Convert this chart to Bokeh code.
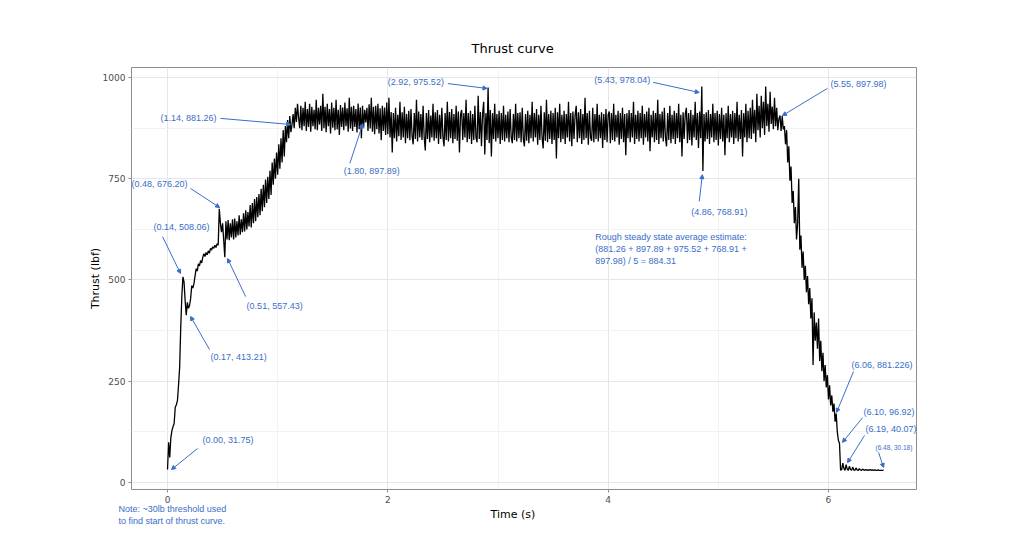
import numpy as np
from bokeh.plotting import figure
from bokeh.models import (ColumnDataSource, Label, Arrow, NormalHead, FixedTicker,
                          Range1d, Title)
from bokeh.embed import file_html
from bokeh.resources import INLINE

# ---------------- data ----------------
dt = 0.01
thrust = [
    32, 99, 62, 110, 128, 138, 145, 185, 192, 202,
    240, 284, 383, 460, 508, 495, 449, 413, 445, 430,
    437, 455, 486, 480, 491, 510, 528, 522, 540, 535,
    548, 542, 556, 565, 558, 568, 562, 572, 566, 578,
    574, 582, 578, 586, 580, 590, 586, 676, 640, 618,
    640, 598, 556, 645, 600, 648, 598, 640, 605, 650,
    600, 652, 605, 645, 610, 660, 612, 650, 618, 665,
    620, 672, 625, 668, 632, 685, 630, 690, 640, 700,
    645, 705, 655, 712, 660, 725, 670, 735, 680, 748,
    690, 755, 700, 770, 710, 790, 735, 800, 750, 815,
    760, 835, 775, 850, 790, 870, 805, 880, 840, 895,
    850, 905, 865, 884, 910, 875, 925, 890, 935, 900,
    875, 930, 870, 925, 880, 940, 868, 922, 878, 935,
    866, 928, 880, 920, 872, 945, 870, 925, 884, 930,
    868, 960, 875, 928, 865, 935, 880, 922, 862, 938,
    876, 925, 870, 945, 872, 920, 858, 932, 878, 926,
    870, 938, 880, 924, 866, 950, 874, 928, 868, 930,
    878, 922, 864, 936, 872, 926, 850, 930, 876, 920,
    889, 925, 868, 934, 874, 950, 866, 928, 860, 930,
    872, 935, 862, 924, 845, 930, 868, 926, 858, 938,
    860, 950, 852, 915, 815, 912, 850, 925, 842, 908,
    855, 940, 846, 914, 852, 928, 838, 910, 850, 918,
    845, 922, 856, 835, 912, 848, 945, 842, 916, 852,
    910, 846, 930, 852, 820, 912, 848, 920, 840, 906,
    852, 935, 844, 914, 850, 920, 836, 908, 848, 925,
    854, 830, 912, 846, 940, 842, 915, 850, 922, 838,
    910, 848, 930, 844, 916, 815, 908, 920, 846, 912,
    852, 945, 840, 912, 848, 918, 836, 910, 846, 930,
    852, 840, 955, 848, 915, 830, 910, 940, 810, 912,
    846, 975, 838, 920, 805, 912, 848, 935, 842, 910,
    850, 918, 836, 912, 846, 930, 842, 908, 850, 916,
    840, 922, 852, 838, 910, 846, 935, 842, 912, 850,
    914, 840, 925, 848, 830, 910, 844, 918, 838, 908,
    850, 940, 842, 912, 852, 922, 834, 908, 846, 930,
    852, 825, 914, 844, 945, 840, 910, 848, 918, 836,
    912, 846, 925, 800, 914, 850, 935, 840, 908, 848,
    918, 836, 910, 852, 940, 842, 912, 830, 916, 848,
    908, 930, 840, 914, 850, 922, 836, 910, 846, 950,
    850, 912, 834, 918, 852, 844, 925, 840, 910, 848,
    935, 842, 908, 850, 914, 826, 910, 846, 922, 840,
    908, 916, 838, 912, 846, 935, 842, 908, 852, 918,
    834, 912, 848, 925, 840, 910, 808, 912, 850, 920,
    840, 912, 852, 940, 836, 908, 848, 918, 842, 912,
    850, 930, 834, 910, 852, 916, 842, 925, 818, 908,
    852, 918, 840, 912, 846, 945, 836, 910, 850, 916,
    842, 925, 852, 830, 912, 846, 930, 838, 908, 848,
    918, 836, 912, 850, 935, 840, 908, 805, 914, 848,
    910, 925, 838, 912, 846, 920, 832, 908, 852, 940,
    846, 912, 826, 916, 850, 978, 769, 910, 842, 914,
    848, 920, 836, 910, 852, 935, 840, 912, 846, 918,
    832, 910, 848, 925, 842, 908, 808, 912, 850, 930,
    840, 910, 852, 918, 836, 912, 850, 940, 842, 908,
    848, 920, 805, 912, 852, 935, 840, 918, 850, 925,
    848, 945, 862, 920, 840, 960, 870, 930, 852, 955,
    875, 940, 858, 978, 880, 935, 866, 965, 885, 928,
    872, 950, 880, 925, 870, 898, 906, 868, 905, 872,
    880, 835, 870, 790, 830, 745, 780, 690, 720, 640,
    680, 600, 640, 750, 575, 610, 530, 570, 500, 535,
    470, 510, 440, 480, 405, 455, 290, 420, 350, 395,
    330, 405, 300, 350, 275, 320, 250, 290, 235, 265,
    205, 240, 190, 215, 175, 195, 150, 170, 125, 104,
    97, 30, 32, 48, 35, 30, 44, 33, 30, 40,
    32, 30, 38, 31, 30, 36, 31, 30, 34, 31,
    30, 33, 31, 30, 32, 30, 31, 30, 32, 30,
    31, 30, 31, 30, 30, 31, 30, 30, 30, 30,
    30.18,
]
time = np.arange(len(thrust)) * dt

# annotations: text, label x/y, arrow start x/y, arrow tip x/y (data units)
ann_text = ["(0.00, 31.75)", "(0.14, 508.06)", "(0.17, 413.21)", "(0.48, 676.20)",
            "(0.51, 557.43)", "(1.14, 881.26)", "(1.80, 897.89)", "(2.92, 975.52)",
            "(5.43, 978.04)", "(4.86, 768.91)", "(5.55, 897.98)", "(6.06, 881.226)",
            "(6.10, 96.92)", "(6.19, 40.07)", "(6.48, 30.18)"]
ann_lx = [0.318, -0.127, 0.391, -0.327, 0.718, -0.064, 1.600, 2.000,
          3.873, 4.755, 6.018, 6.209, 6.318, 6.336, 6.427]
ann_ly = [106, 630, 309, 738, 437, 899, 768, 988, 993, 669, 985, 289, 175, 131, 86]
ann_sx = [0.273, -0.045, 0.382, 0.209, 0.709, 0.482, 1.655, 2.545,
          4.409, 4.827, 5.990, 6.227, 6.309, 6.327, 6.455]
ann_sy = [84, 607, 328, 726, 459, 899, 788, 985, 988, 694, 973, 274, 160, 116, 74]
ann_tx = [0.036, 0.118, 0.209, 0.473, 0.545, 1.118, 1.773, 2.900,
          4.827, 4.855, 5.582, 6.073, 6.127, 6.173, 6.500]
ann_ty = [32, 516, 410, 679, 553, 884, 886, 973, 963, 760, 906, 173, 99, 49, 37]
ann_size = ["9px"] * 14 + ["6.5px"]

steady_lines = ["Rough steady state average estimate:",
                "(881.26 + 897.89 + 975.52 + 768.91 +",
                "897.98) / 5 = 884.31"]
note_lines = ["Note: ~30lb threshold used", "to find start of thrust curve."]

BLUE = "#3a6ec8"
GREY_TXT = "#4d4d4d"

# ---------------- figure ----------------
p = figure(width=1013, height=549, output_backend="svg", toolbar_location=None,
           x_range=Range1d(-0.327, 6.799), y_range=Range1d(-17.3, 1024.7),
           min_border_left=131, min_border_right=97, min_border_top=67,
           min_border_bottom=60)
p.background_fill_color = "white"
p.border_fill_color = "white"
p.outline_line_color = "#8c8c8c"
p.outline_line_width = 1

p.title.text = "Thrust curve"
p.title.align = "left"
p.title.offset = 340
p.title.standoff = 24
p.title.text_font = "DejaVu Sans"
p.title.text_font_size = "13px"
p.title.text_font_style = "normal"
p.title.text_color = "black"

p.add_layout(Title(text="Time (s)", align="left", offset=359, standoff=0,
                   text_font="DejaVu Sans", text_font_size="11px",
                   text_font_style="normal", text_color="black"), "below")

p.xaxis.ticker = FixedTicker(ticks=[0, 2, 4, 6], minor_ticks=[1, 3, 5])
p.yaxis.ticker = FixedTicker(ticks=[0, 250, 500, 750, 1000],
                             minor_ticks=[125, 375, 625, 875])
for ax in (p.xaxis[0], p.yaxis[0]):
    ax.axis_line_color = None
    ax.major_tick_line_color = "#8c8c8c"
    ax.major_tick_out = 3
    ax.major_tick_in = 0
    ax.minor_tick_line_color = None
    ax.major_label_text_font = "DejaVu Sans"
    ax.major_label_text_font_size = "9px"
    ax.major_label_text_color = GREY_TXT
    ax.major_label_standoff = 2
p.yaxis.axis_label = "Thrust (lbf)"
p.yaxis.axis_label_text_font = "DejaVu Sans"
p.yaxis.axis_label_text_font_size = "11px"
p.yaxis.axis_label_text_font_style = "normal"
p.yaxis.axis_label_text_color = "black"
p.yaxis.axis_label_standoff = -2

p.xgrid.grid_line_color = "#e6e6e6"
p.ygrid.grid_line_color = "#e6e6e6"
p.xgrid.minor_grid_line_color = "#f2f2f2"
p.ygrid.minor_grid_line_color = "#f2f2f2"

src = ColumnDataSource(dict(t=time, f=thrust))
p.line("t", "f", source=src, line_color="black", line_width=1.3)

# arrows
for sx, sy, tx, ty in zip(ann_sx, ann_sy, ann_tx, ann_ty):
    p.add_layout(Arrow(end=NormalHead(size=4, fill_color=BLUE, line_color=BLUE),
                       x_start=sx, y_start=sy, x_end=tx, y_end=ty,
                       line_color=BLUE, line_width=1))

for txt, lx, ly, fs in zip(ann_text, ann_lx, ann_ly, ann_size):
    p.add_layout(Label(x=lx, y=ly, text=txt, text_font="Liberation Sans",
                       text_font_size=fs, text_color=BLUE,
                       text_baseline="middle", text_align="left"))

for i, line in enumerate(steady_lines):
    p.add_layout(Label(x=3.882, y=605 - 29.6 * i, text=line,
                       text_font="Liberation Sans", text_font_size="9px",
                       text_color=BLUE, text_baseline="middle", text_align="left"))

for i, line in enumerate(note_lines):
    p.add_layout(Label(x=118, y=508 + 12 * i, x_units="canvas", y_units="canvas",
                       text=line, text_font="Liberation Sans", text_font_size="9px",
                       text_color=BLUE, text_baseline="middle", text_align="left"),
                 "below")

open("out.html", "w").write(file_html(p, INLINE))
